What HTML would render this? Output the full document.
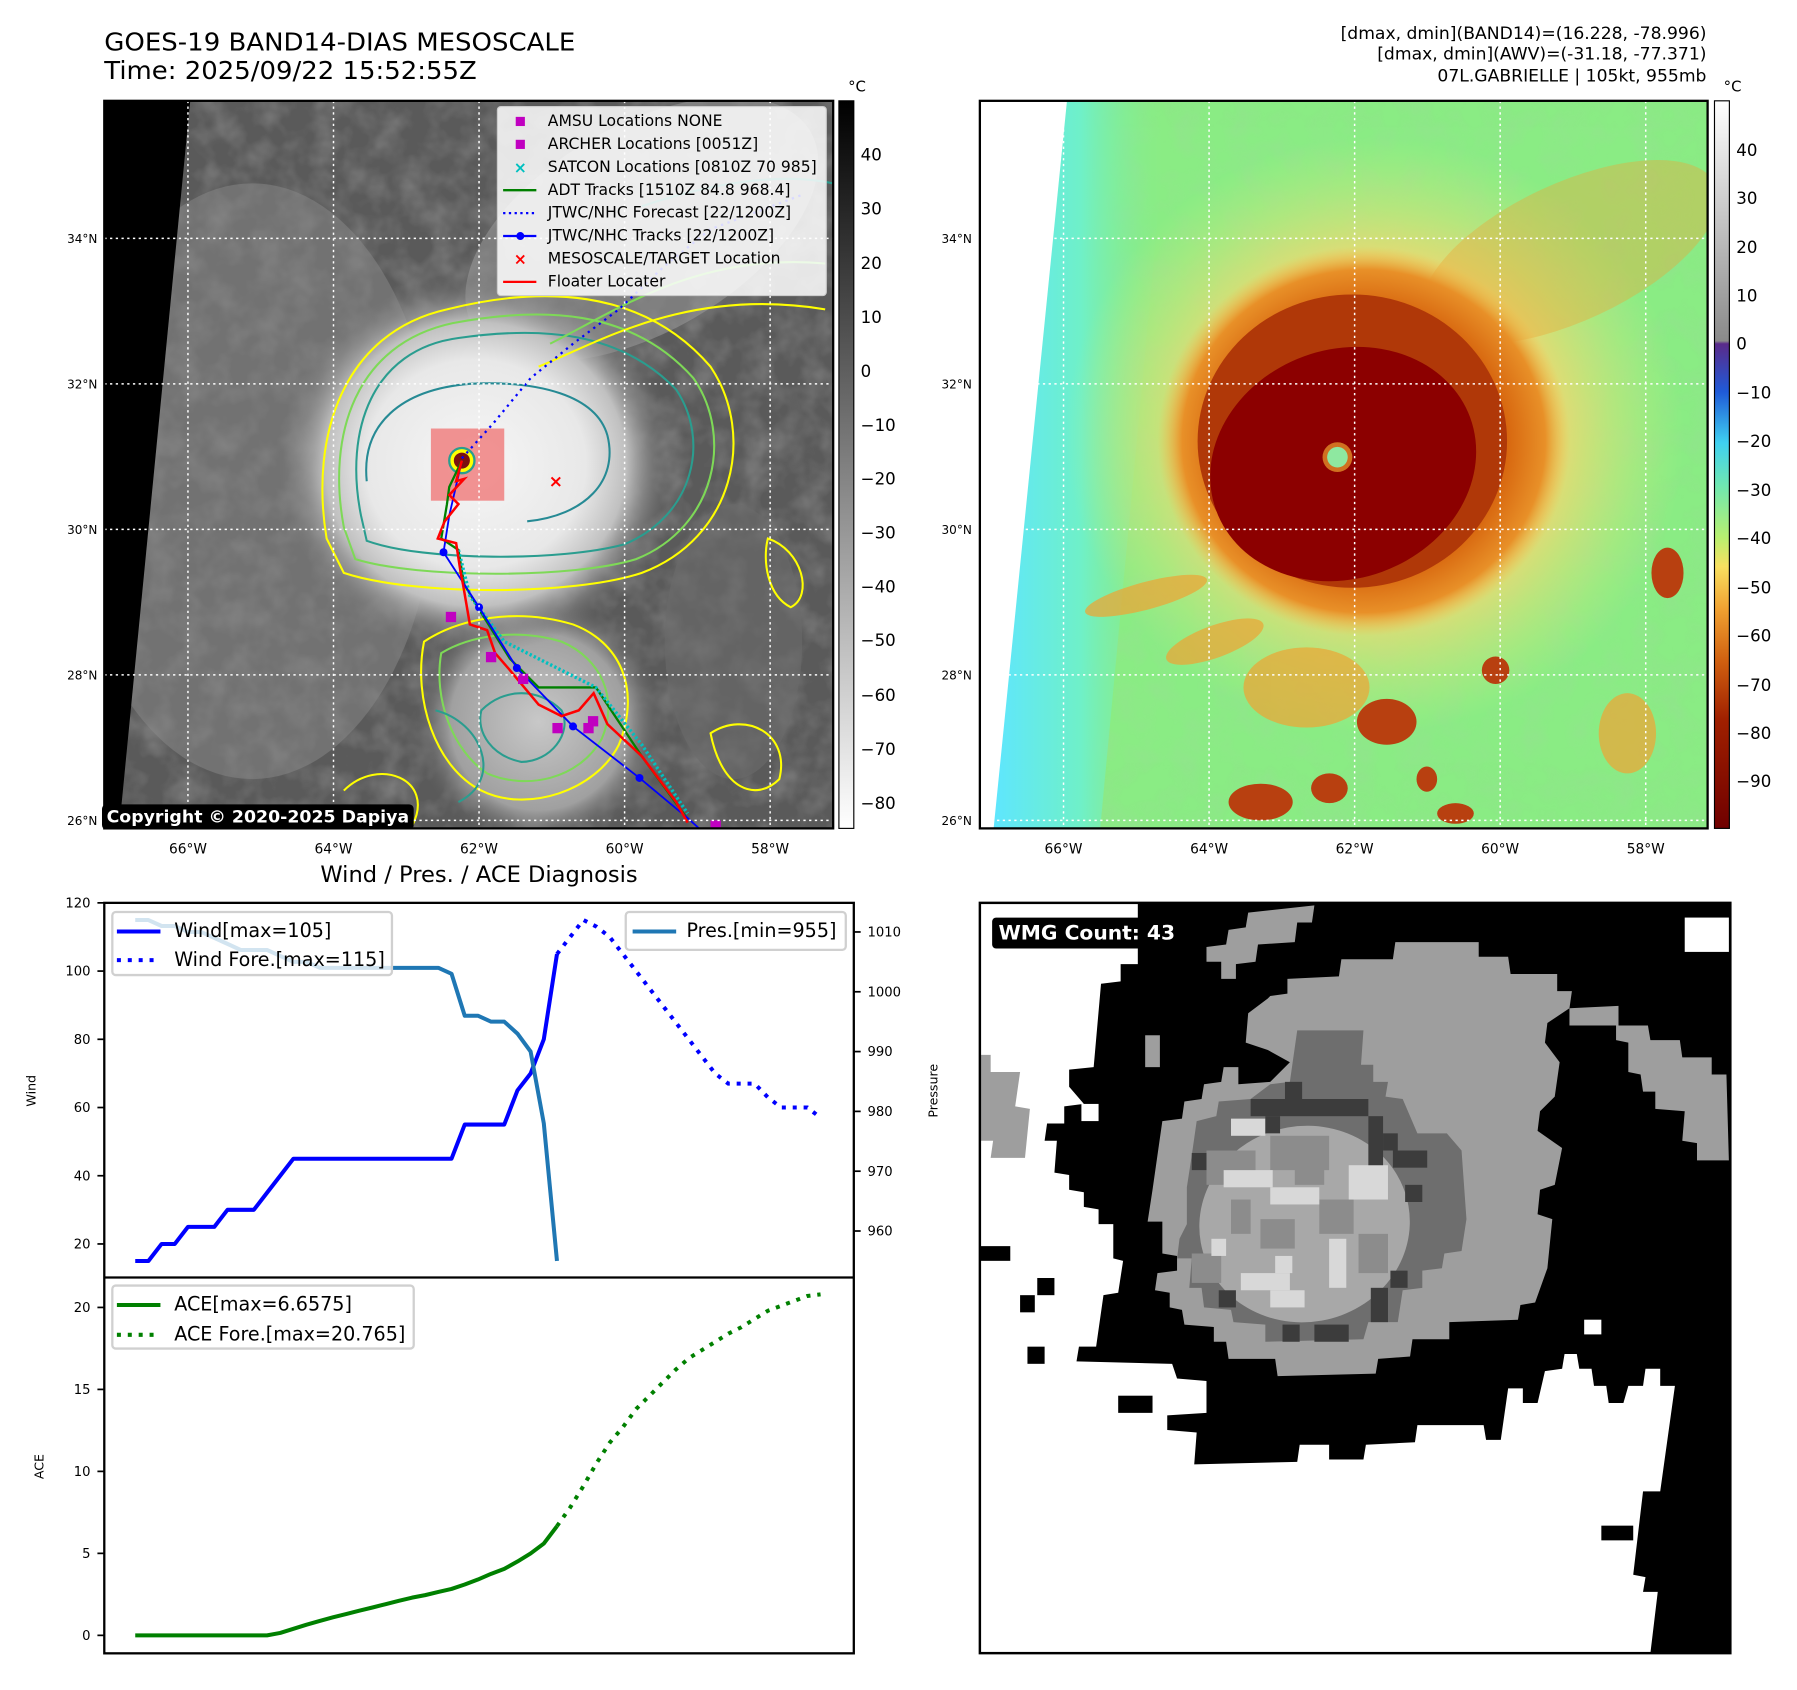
<!DOCTYPE html>
<html><head><meta charset="utf-8"><title>GOES-19 BAND14 Gabrielle</title>
<style>
html,body{margin:0;padding:0;background:#fff;}
svg{display:block;font-family:"DejaVu Sans","Liberation Sans",sans-serif;}
</style></head>
<body>
<svg id="root" xmlns="http://www.w3.org/2000/svg" width="1797" height="1690" viewBox="0 0 1568 1475" preserveAspectRatio="none">
<defs>
 <clipPath id="clipL"><rect x="91" y="88" width="636" height="635"/></clipPath>
 <clipPath id="clipR"><rect x="855" y="88" width="635" height="635"/></clipPath>
 <clipPath id="clipW"><rect x="8" y="15" width="1530" height="1530"/></clipPath>
 <radialGradient id="stormL" cx="0.5" cy="0.5" r="0.5">
  <stop offset="0" stop-color="#f6f6f6"/><stop offset="0.55" stop-color="#e8e8e8"/><stop offset="0.75" stop-color="#c0c0c0"/><stop offset="1" stop-color="#707070" stop-opacity="0"/>
 </radialGradient>
 <radialGradient id="bandL" cx="0.5" cy="0.5" r="0.5">
  <stop offset="0" stop-color="#c8c8c8"/><stop offset="0.7" stop-color="#a0a0a0"/><stop offset="1" stop-color="#606060" stop-opacity="0"/>
 </radialGradient>
 <radialGradient id="yelR" cx="0.5" cy="0.5" r="0.5">
  <stop offset="0" stop-color="#f0c050"/><stop offset="0.6" stop-color="#f2d870"/><stop offset="1" stop-color="#c8ec80" stop-opacity="0"/>
 </radialGradient>
 <radialGradient id="orR" cx="0.5" cy="0.5" r="0.5">
  <stop offset="0" stop-color="#c85010"/><stop offset="0.7" stop-color="#d86810"/><stop offset="0.88" stop-color="#e89028"/><stop offset="1" stop-color="#f0c050" stop-opacity="0"/>
 </radialGradient>
 <linearGradient id="cyanR" x1="0" x2="1" y1="0" y2="0">
  <stop offset="0" stop-color="#5ee6ff"/><stop offset="0.5" stop-color="#6ff0c8"/><stop offset="1" stop-color="#8aec84" stop-opacity="0"/>
 </linearGradient>
 <linearGradient id="cbL" x1="0" x2="0" y1="0" y2="1"><stop offset="0" stop-color="#000"/><stop offset="1" stop-color="#fff"/></linearGradient>
 <linearGradient id="cbR" x1="0" x2="0" y1="0" y2="1">
  <stop offset="0" stop-color="#ffffff"/><stop offset="0.33" stop-color="#8a8a8a"/>
  <stop offset="0.334" stop-color="#5a2a8a"/><stop offset="0.4" stop-color="#1f5ad8"/>
  <stop offset="0.47" stop-color="#3fd0f0"/><stop offset="0.53" stop-color="#70e8b0"/>
  <stop offset="0.6" stop-color="#b8f070"/><stop offset="0.64" stop-color="#f8e060"/>
  <stop offset="0.7" stop-color="#f0a030"/><stop offset="0.77" stop-color="#d06010"/>
  <stop offset="0.85" stop-color="#a02000"/><stop offset="1" stop-color="#700000"/>
 </linearGradient>
 <filter id="tex" x="0" y="0" width="1" height="1"><feTurbulence type="fractalNoise" baseFrequency="0.04" numOctaves="3" seed="4"/><feColorMatrix type="matrix" values="0 0 0 0 0.5  0 0 0 0 0.5  0 0 0 0 0.5  0 0 0 1.6 -0.6"/></filter>
</defs>
<rect x="0" y="0" width="1568" height="1475" fill="#fff"/>

<text x="91" y="44" font-size="21.5" textLength="411" lengthAdjust="spacingAndGlyphs">GOES-19 BAND14-DIAS MESOSCALE</text>
<text x="91" y="69" font-size="21.5" textLength="325" lengthAdjust="spacingAndGlyphs">Time: 2025/09/22 15:52:55Z</text>
<g font-size="15" text-anchor="end">
 <text x="1489" y="34">[dmax, dmin](BAND14)=(16.228, -78.996)</text>
 <text x="1489" y="52">[dmax, dmin](AWV)=(-31.18, -77.371)</text>
 <text x="1489" y="71">07L.GABRIELLE | 105kt, 955mb</text>
</g>

<g>
<g clip-path="url(#clipL)">
 <rect x="91" y="88" width="636" height="635" fill="#5a5a5a"/>
 <rect x="91" y="88" width="636" height="635" fill="#000" filter="url(#tex)" opacity="0.4"/>
 <ellipse cx="220" cy="420" rx="160" ry="260" fill="#8a8a8a" opacity="0.5"/>
 <ellipse cx="560" cy="200" rx="170" ry="90" fill="#9a9a9a" opacity="0.55" transform="rotate(-30 560 200)"/>
 <ellipse cx="470" cy="630" rx="110" ry="110" fill="url(#bandL)"/>
 <ellipse cx="640" cy="560" rx="60" ry="120" fill="#6a6a6a" opacity="0.6"/>
 <ellipse cx="415" cy="405" rx="175" ry="165" fill="url(#stormL)"/>
 <polygon points="91,88 166,88 104,723 91,723" fill="#000"/>
 <g fill="none" stroke-width="1.8">
  <path d="M285,470 C270,380 300,290 390,270 C470,250 560,250 620,320 C660,380 640,470 560,500 C500,520 360,520 300,500 Z" stroke="#ffff00"/>
  <path d="M300,460 C285,380 310,300 395,282 C470,268 550,268 605,330 C640,380 625,460 555,488 C500,505 365,505 310,488 Z" stroke="#7ed957"/>
  <path d="M315,450 C300,375 325,305 400,295 C470,285 540,288 590,340 C620,385 605,450 545,475 C490,490 370,490 320,472 Z" stroke="#2a9d8f"/>
  <path d="M320,420 C315,370 350,340 410,335 C470,332 520,345 530,380 C540,420 510,450 460,455" stroke="#268a94"/>
  <path d="M470,320 C520,300 600,250 720,270" stroke="#ffff00"/>
  <path d="M480,300 C540,270 610,220 720,230" stroke="#7ed957"/>
  <path d="M560,180 C620,160 680,150 727,160" stroke="#2a9d8f"/>
  <path d="M370,560 C400,540 450,530 500,545 C540,560 560,600 540,650 C520,690 460,710 420,690 C380,670 360,610 370,560 Z" stroke="#ffff00"/>
  <path d="M385,570 C410,555 450,548 490,560 C525,575 540,610 525,645 C505,680 460,690 425,675 C395,655 378,610 385,570 Z" stroke="#7ed957"/>
  <path d="M420,620 C440,600 470,600 490,620 C500,640 480,665 455,665 C430,660 415,640 420,620 Z" stroke="#2a9d8f"/>
  <path d="M300,690 C330,660 380,680 360,720" stroke="#ffff00"/>
  <path d="M670,470 C700,480 710,520 690,530 C670,520 665,490 670,470 Z" stroke="#ffff00"/>
  <path d="M620,640 C650,620 690,640 680,680 C660,700 630,690 620,640 Z" stroke="#ffff00"/>
  <path d="M380,620 C420,630 440,680 400,700" stroke="#2a9d8f"/>
 </g>
 <rect x="376" y="374" width="64" height="63" fill="#f08080" opacity="0.85"/>
 <circle cx="403" cy="402" r="11" fill="#ffff00" stroke="#2a9d8f" stroke-width="2"/>
 <circle cx="403" cy="402" r="7" fill="#7a1010"/>
 <polyline points="403,400 430,370 463,330 500,300 540,270 580,232 620,200 700,170" fill="none" stroke="#0000ff" stroke-width="2" stroke-dasharray="2,4"/>
 <polyline points="403,402 392,425 390,440 385,470 400,480 405,510 420,535 445,575 470,600 520,600 560,660 600,715" fill="none" stroke="#008000" stroke-width="2"/>
 <polyline points="400,480 410,520 440,560 520,600 560,650 600,710" fill="none" stroke="#00c0c0" stroke-width="3" stroke-dasharray="2,2"/>
 <polyline points="403,402 392,450 387,482 418,530 451,583 500,634 558,679 600,714 610,723" fill="none" stroke="#0000ff" stroke-width="1.6"/>
 <g fill="#0000ff">
  <circle cx="387" cy="482" r="3.5"/><circle cx="418" cy="530" r="3.5"/><circle cx="451" cy="583" r="3.5"/><circle cx="500" cy="634" r="3.5"/><circle cx="558" cy="679" r="3.5"/>
 </g>
 <polyline points="403,402 398,420 405,418 392,432 400,440 388,455 382,470 398,474 402,500 404,510 410,545 425,550 432,570 445,585 470,615 490,625 505,620 518,605 530,632 560,660 575,680 590,700 600,718" fill="none" stroke="#ff0000" stroke-width="2.2"/>
 <g fill="#c000c0">
  <rect x="389" y="534" width="9" height="9"/><rect x="424" y="569" width="9" height="9"/><rect x="452" y="588" width="9" height="9"/><rect x="482" y="631" width="9" height="9"/><rect x="509" y="631" width="9" height="9"/><rect x="513" y="625" width="9" height="9"/><rect x="620" y="716" width="9" height="9"/>
 </g>
 <text x="485" y="425" font-size="15" font-weight="bold" fill="#ff0000" text-anchor="middle">×</text>
 <g stroke="#fff" stroke-width="1.3" stroke-dasharray="2,3">
  <line x1="164" y1="88" x2="164" y2="723"/><line x1="291" y1="88" x2="291" y2="723"/><line x1="418" y1="88" x2="418" y2="723"/><line x1="545" y1="88" x2="545" y2="723"/><line x1="672" y1="88" x2="672" y2="723"/>
  <line x1="91" y1="208" x2="727" y2="208"/><line x1="91" y1="335" x2="727" y2="335"/><line x1="91" y1="462" x2="727" y2="462"/><line x1="91" y1="589" x2="727" y2="589"/><line x1="91" y1="716" x2="727" y2="716"/>
 </g>
</g>
<rect x="91" y="88" width="636" height="635" fill="none" stroke="#000" stroke-width="2"/>
<g>
 <rect x="434" y="93" width="287" height="165" rx="3" fill="#fff" fill-opacity="0.85" stroke="#ccc"/>
 <g font-size="13.6">
  <rect x="450" y="102" width="8" height="8" fill="#c000c0"/><text x="478" y="110">AMSU Locations NONE</text>
  <rect x="450" y="122" width="8" height="8" fill="#c000c0"/><text x="478" y="130">ARCHER Locations [0051Z]</text>
  <text x="454" y="151" fill="#00c0c0" text-anchor="middle" font-weight="bold">×</text><text x="478" y="150">SATCON Locations [0810Z 70 985]</text>
  <line x1="439" y1="166" x2="468" y2="166" stroke="#008000" stroke-width="2"/><text x="478" y="170">ADT Tracks [1510Z 84.8 968.4]</text>
  <line x1="439" y1="186" x2="468" y2="186" stroke="#0000ff" stroke-width="2" stroke-dasharray="2,3"/><text x="478" y="190">JTWC/NHC Forecast [22/1200Z]</text>
  <line x1="439" y1="206" x2="468" y2="206" stroke="#0000ff" stroke-width="2"/><circle cx="454" cy="206" r="3.5" fill="#0000ff"/><text x="478" y="210">JTWC/NHC Tracks [22/1200Z]</text>
  <text x="454" y="231" fill="#ff0000" text-anchor="middle" font-weight="bold">×</text><text x="478" y="230">MESOSCALE/TARGET Location</text>
  <line x1="439" y1="246" x2="468" y2="246" stroke="#ff0000" stroke-width="2"/><text x="478" y="250">Floater Locater</text>
 </g>
</g>
<g>
 <rect x="89" y="702" width="272" height="22" rx="4" fill="#000"/>
 <text x="93" y="718" font-size="14.5" font-weight="bold" fill="#fff" textLength="264" lengthAdjust="spacingAndGlyphs">Copyright © 2020-2025 Dapiya</text>
</g>
</g>

<g>
 <rect x="732" y="88" width="13" height="635" fill="url(#cbL)" stroke="#000" stroke-width="1"/>
 <text x="740" y="80" font-size="13">°C</text>
 <g font-size="14.5">
  <text x="751" y="140">40</text><text x="751" y="187">30</text><text x="751" y="235">20</text><text x="751" y="282">10</text><text x="751" y="329">0</text>
  <text x="751" y="376">−10</text><text x="751" y="423">−20</text><text x="751" y="470">−30</text><text x="751" y="517">−40</text><text x="751" y="564">−50</text><text x="751" y="612">−60</text><text x="751" y="659">−70</text><text x="751" y="706">−80</text>
 </g>
</g>
<g>
 <rect x="1496" y="88" width="13" height="635" fill="url(#cbR)" stroke="#000" stroke-width="1"/>
 <text x="1504" y="80" font-size="13">°C</text>
 <g font-size="14.5">
  <text x="1515" y="136">40</text><text x="1515" y="178">30</text><text x="1515" y="221">20</text><text x="1515" y="263">10</text><text x="1515" y="305">0</text>
  <text x="1515" y="348">−10</text><text x="1515" y="390">−20</text><text x="1515" y="433">−30</text><text x="1515" y="475">−40</text><text x="1515" y="518">−50</text><text x="1515" y="560">−60</text><text x="1515" y="603">−70</text><text x="1515" y="645">−80</text><text x="1515" y="687">−90</text>
 </g>
</g>

<g>
<g clip-path="url(#clipR)">
 <rect x="855" y="88" width="635" height="635" fill="#8aec84"/>
 <rect x="855" y="88" width="635" height="635" fill="#000" filter="url(#tex)" opacity="0.15"/>
 <polygon points="930,88 1020,88 960,723 866,723" fill="url(#cyanR)"/>
 <ellipse cx="1200" cy="380" rx="270" ry="260" fill="url(#yelR)" opacity="0.85"/>
 <ellipse cx="1370" cy="220" rx="140" ry="60" fill="#eaa838" opacity="0.4" transform="rotate(-25 1370 220)"/>
 <ellipse cx="1190" cy="385" rx="180" ry="170" fill="url(#orR)"/>
 <ellipse cx="1180" cy="385" rx="135" ry="128" fill="#b03808"/>
 <ellipse cx="1172" cy="405" rx="118" ry="100" fill="#8c0000" transform="rotate(-20 1172 405)"/>
 <circle cx="1167" cy="399" r="13" fill="#d07020"/>
 <circle cx="1167" cy="399" r="9" fill="#8ee8a0"/>
 <g fill="#eaa838" opacity="0.75">
  <ellipse cx="1140" cy="600" rx="55" ry="35"/><ellipse cx="1060" cy="560" rx="45" ry="14" transform="rotate(-20 1060 560)"/><ellipse cx="1420" cy="640" rx="25" ry="35"/><ellipse cx="1000" cy="520" rx="55" ry="12" transform="rotate(-15 1000 520)"/>
 </g>
 <g fill="#b84010">
  <ellipse cx="1210" cy="630" rx="26" ry="20"/><ellipse cx="1160" cy="688" rx="16" ry="13"/><ellipse cx="1100" cy="700" rx="28" ry="16"/><ellipse cx="1270" cy="710" rx="16" ry="9"/><ellipse cx="1455" cy="500" rx="14" ry="22"/><ellipse cx="1305" cy="585" rx="12" ry="12"/><ellipse cx="1245" cy="680" rx="9" ry="11"/>
 </g>
 <g stroke="#fff" stroke-width="1.3" stroke-dasharray="2,3">
  <line x1="928" y1="88" x2="928" y2="723"/><line x1="1055" y1="88" x2="1055" y2="723"/><line x1="1182" y1="88" x2="1182" y2="723"/><line x1="1309" y1="88" x2="1309" y2="723"/><line x1="1436" y1="88" x2="1436" y2="723"/>
  <line x1="855" y1="208" x2="1490" y2="208"/><line x1="855" y1="335" x2="1490" y2="335"/><line x1="855" y1="462" x2="1490" y2="462"/><line x1="855" y1="589" x2="1490" y2="589"/><line x1="855" y1="716" x2="1490" y2="716"/>
 </g>
 <polygon points="855,88 931,88 867,723 855,723" fill="#fff"/>
</g>
<rect x="855" y="88" width="635" height="635" fill="none" stroke="#000" stroke-width="2"/>
</g>

<g font-size="10.5" text-anchor="end">
 <text x="85" y="212">34°N</text><text x="85" y="339">32°N</text><text x="85" y="466">30°N</text><text x="85" y="593">28°N</text><text x="85" y="720">26°N</text>
 <text x="848" y="212">34°N</text><text x="848" y="339">32°N</text><text x="848" y="466">30°N</text><text x="848" y="593">28°N</text><text x="848" y="720">26°N</text>
</g>
<g font-size="12" text-anchor="middle">
 <text x="164" y="745">66°W</text><text x="291" y="745">64°W</text><text x="418" y="745">62°W</text><text x="545" y="745">60°W</text><text x="672" y="745">58°W</text>
 <text x="928" y="745">66°W</text><text x="1055" y="745">64°W</text><text x="1182" y="745">62°W</text><text x="1309" y="745">60°W</text><text x="1436" y="745">58°W</text>
</g>

<text x="418" y="770" font-size="19.7" text-anchor="middle">Wind / Pres. / ACE Diagnosis</text>
<g id="chart">
 <rect x="91" y="788" width="654" height="655" fill="none" stroke="#000" stroke-width="2"/>
 <line x1="91" y1="1115" x2="745" y2="1115" stroke="#000" stroke-width="2"/>
 <text x="31" y="952" font-size="11" transform="rotate(-90 31 952)" text-anchor="middle">Wind</text>
 <text x="818" y="952" font-size="11" transform="rotate(-90 818 952)" text-anchor="middle">Pressure</text>
 <text x="38" y="1280" font-size="11" transform="rotate(-90 38 1280)" text-anchor="middle">ACE</text>
 <g id="ticks"></g>
 <g id="series"></g>
 <g>
  <rect x="98" y="796" width="244" height="55" rx="3" fill="#fff" fill-opacity="0.8" stroke="#d0d0d0" stroke-width="2"/>
  <line x1="102" y1="813" x2="140" y2="813" stroke="#0000ff" stroke-width="3.5"/>
  <line x1="102" y1="838" x2="140" y2="838" stroke="#0000ff" stroke-width="3.5" stroke-dasharray="3.5,6"/>
  <text x="152" y="818" font-size="16.7">Wind[max=105]</text>
  <text x="152" y="843" font-size="16.7">Wind Fore.[max=115]</text>
 </g>
 <g>
  <rect x="546" y="796" width="192" height="33" rx="3" fill="#fff" fill-opacity="0.8" stroke="#d0d0d0" stroke-width="2"/>
  <line x1="552" y1="813" x2="590" y2="813" stroke="#1f77b4" stroke-width="3.5"/>
  <text x="599" y="818" font-size="16.7">Pres.[min=955]</text>
 </g>
 <g>
  <rect x="98" y="1122" width="263" height="55" rx="3" fill="#fff" fill-opacity="0.8" stroke="#d0d0d0" stroke-width="2"/>
  <line x1="102" y1="1139" x2="140" y2="1139" stroke="#008000" stroke-width="3.5"/>
  <line x1="102" y1="1165" x2="140" y2="1165" stroke="#008000" stroke-width="3.5" stroke-dasharray="3.5,6"/>
  <text x="152" y="1144" font-size="16.7">ACE[max=6.6575]</text>
  <text x="152" y="1170" font-size="16.7">ACE Fore.[max=20.765]</text>
 </g>
</g>

<g transform="translate(855,788) scale(0.428) translate(-8,-15)">
 <g clip-path="url(#clipW)">
 <rect x="8" y="15" width="1530" height="1530" fill="#fff"/>
 <polygon points="330,15 330,140 295,140 295,175 255,180 240,350 190,355 190,390 220,425 180,430 180,465 145,465 140,500 165,500 160,565 190,570 190,600 220,605 220,635 250,640 250,670 280,670 280,740 300,745 290,810 260,815 245,920 210,920 205,950 400,955 410,985 470,990 470,1055 390,1060 390,1090 450,1095 445,1160 655,1155 660,1120 720,1120 720,1150 790,1150 795,1120 895,1115 900,1080 1035,1080 1040,1110 1070,1110 1085,1005 1115,1005 1115,1035 1145,1035 1160,970 1195,965 1200,935 1225,935 1230,965 1255,965 1260,1000 1285,1000 1290,1035 1320,1035 1330,1000 1360,1000 1365,965 1395,965 1395,1000 1425,1000 1395,1215 1360,1215 1340,1385 1365,1390 1360,1420 1390,1420 1375,1545 1538,1545 1538,15" fill="#000"/>
 <rect x="1445" y="45" width="90" height="70" fill="#fff"/>
 <g fill="#000"><rect x="125" y="780" width="35" height="35"/><rect x="90" y="815" width="30" height="35"/><rect x="105" y="920" width="35" height="35"/><rect x="290" y="1020" width="70" height="35"/><rect x="8" y="715" width="62" height="30"/><rect x="1275" y="1285" width="65" height="30"/></g>
 <g fill="#fff"><rect x="1240" y="865" width="35" height="30"/><rect x="1255" y="1180" width="40" height="30"/><rect x="215" y="425" width="35" height="35"/></g>
 <g fill="#9e9e9e">
  <polygon points="8,325 30,325 30,360 90,360 80,430 110,435 100,535 30,535 35,500 8,500"/>
  <polygon points="470,105 510,100 515,70 550,65 555,35 690,20 685,55 655,55 650,95 575,100 570,135 530,140 530,170 500,170 500,135 470,135"/>
  <rect x="345" y="285" width="30" height="65"/>
  <polygon points="1210,230 1310,225 1310,265 1370,265 1375,295 1435,295 1440,330 1500,330 1500,365 1530,365 1535,540 1470,540 1470,505 1440,500 1445,440 1385,435 1385,400 1360,400 1355,365 1330,360 1330,300 1305,295 1305,265 1210,265"/>
  <polygon points="635,170 740,165 745,130 850,130 855,95 1025,95 1025,125 1085,125 1090,160 1185,160 1185,195 1215,195 1210,230 1165,260 1160,300 1190,340 1180,410 1150,440 1145,480 1195,515 1180,590 1150,600 1145,650 1175,660 1165,760 1140,830 1110,835 1105,865 965,870 965,905 890,905 885,940 820,945 815,975 615,980 610,945 515,945 510,910 485,910 485,880 425,875 420,845 395,840 395,810 365,805 370,770 410,765 410,735 380,730 380,665 350,665 360,600 380,460 420,455 425,420 460,415 465,385 500,380 505,350 535,350 535,385 600,380 640,340 595,315 550,300 555,240 595,210 600,205 635,200"/>
 </g>
 <polygon fill="#6e6e6e" points="655,275 790,275 785,345 810,345 810,380 840,380 835,410 870,415 900,485 960,485 990,520 1000,660 990,725 955,730 950,760 910,765 910,800 870,805 860,870 800,870 790,905 590,910 590,875 525,870 520,845 465,840 460,800 435,800 440,740 410,740 415,700 430,670 430,595 440,530 450,460 490,450 495,420 560,415 600,385 640,380"/>
 <ellipse cx="670" cy="670" rx="215" ry="200" fill="#a8a8a8" transform="rotate(-10 670 670)"/>
 <g fill="#8c8c8c"><rect x="600" y="490" width="120" height="70"/><rect x="470" y="520" width="100" height="70"/><rect x="700" y="620" width="70" height="70"/><rect x="580" y="660" width="70" height="60"/><rect x="780" y="690" width="60" height="80"/><rect x="440" y="730" width="60" height="60"/><rect x="650" y="540" width="60" height="50"/><rect x="520" y="620" width="40" height="70"/></g>
 <g fill="#d8d8d8"><rect x="505" y="560" width="100" height="35"/><rect x="600" y="595" width="100" height="35"/><rect x="720" y="700" width="35" height="100"/><rect x="610" y="735" width="35" height="35"/><rect x="540" y="770" width="100" height="35"/><rect x="600" y="805" width="70" height="35"/><rect x="520" y="455" width="70" height="35"/><rect x="760" y="550" width="80" height="70"/><rect x="480" y="700" width="30" height="35"/></g>
 <g fill="#3c3c3c"><rect x="560" y="415" width="240" height="35"/><rect x="630" y="380" width="35" height="40"/><rect x="800" y="450" width="30" height="100"/><rect x="440" y="525" width="30" height="35"/><rect x="850" y="520" width="70" height="35"/><rect x="875" y="590" width="35" height="35"/><rect x="845" y="765" width="35" height="35"/><rect x="805" y="800" width="35" height="70"/><rect x="495" y="805" width="35" height="35"/><rect x="625" y="875" width="35" height="35"/><rect x="690" y="875" width="70" height="35"/><rect x="590" y="450" width="30" height="35"/><rect x="830" y="485" width="30" height="35"/></g>
 </g>
 <rect x="8" y="15" width="1530" height="1530" fill="none" stroke="#000" stroke-width="5"/>
 <g>
  <rect x="33" y="45" width="382" height="63" rx="8" fill="#000"/>
  <text x="46" y="90" font-size="39" font-weight="bold" fill="#fff" textLength="360" lengthAdjust="spacingAndGlyphs">WMG Count: 43</text>
 </g>
</g>
</svg>

<script>
const windObs = [15,15,20,20,25,25,25,30,30,30,35,40,45,45,45,45,45,45,45,45,45,45,45,45,45,55,55,55,55,65,70,80,105];
const presObs = [1012,1012,1011,1011,1010,1010,1009,1008,1007,1007,1007,1006,1005,1005,1004,1004,1004,1004,1004,1004,1004,1004,1004,1004,1003,996,996,995,995,993,990,978,955];
const windFore = [105,110,115,113,110,105,100,95,90,85,80,75,70,67,67,67,63,60,60,60,57];
const aceObs = [0,0,0,0,0,0,0,0,0,0,0,0.15,0.4,0.65,0.88,1.1,1.3,1.5,1.7,1.9,2.1,2.3,2.45,2.65,2.83,3.1,3.4,3.75,4.05,4.5,5.0,5.6,6.66];
const aceFore = [6.66,7.8,9.1,10.5,11.75,12.7,13.8,14.6,15.4,16.2,16.9,17.4,17.9,18.4,18.8,19.3,19.8,20.1,20.4,20.7,20.8];
const windTicks = [20,40,60,80,100,120];
const presTicks = [960,970,980,990,1000,1010];
const aceTicks = [0,5,10,15,20];

const NS = 'http://www.w3.org/2000/svg';
const xPos = i => 118 + i * 11.5;
const yWind = v => 788 + (120 - v) * 2.977;
const yPres = p => 813.4 + (1010 - p) * 5.22;
const yAce = v => 1427.3 - v * 14.31;
const foreStart = windObs.length - 1;

function mk(tag, attrs, parent) {
  const el = document.createElementNS(NS, tag);
  for (const k in attrs) el.setAttribute(k, attrs[k]);
  parent.appendChild(el);
  return el;
}
const series = document.getElementById('series');
const ticks = document.getElementById('ticks');

windTicks.forEach(v => {
  const y = yWind(v);
  const t = mk('line', {x1: 85, x2: 91, y1: y, y2: y, stroke: '#000', 'stroke-width': 1.5}, ticks);
  
  
  const l = mk('text', {x: 79, y: y + 4, 'font-size': 11.5, 'text-anchor': 'end'}, ticks);
  l.textContent = v;
  
  
});
presTicks.forEach(v => {
  const y = yPres(v);
  const t = mk('line', {x1: 745, x2: 751, y1: y, y2: y, stroke: '#000', 'stroke-width': 1.5}, ticks);
  
  
  const l = mk('text', {x: 757, y: y + 4, 'font-size': 11.5}, ticks);
  l.textContent = v;
  
  
});
aceTicks.forEach(v => {
  const y = yAce(v);
  const t = mk('line', {x1: 85, x2: 91, y1: y, y2: y, stroke: '#000', 'stroke-width': 1.5}, ticks);
  
  
  const l = mk('text', {x: 79, y: y + 4, 'font-size': 11.5, 'text-anchor': 'end'}, ticks);
  l.textContent = v;
  
  
});

function pts(arr, off, yf) { return arr.map((v, i) => xPos(i + off).toFixed(1) + ',' + yf(v).toFixed(1)).join(' '); }

const pw = mk('polyline', {points: pts(windObs, 0, yWind), fill: 'none', stroke: '#0000ff', 'stroke-width': 3.5, 'stroke-linejoin': 'round'}, series);


const pwf = mk('polyline', {points: pts(windFore, foreStart, yWind), fill: 'none', stroke: '#0000ff', 'stroke-width': 3.5, 'stroke-dasharray': '3.5,6'}, series);


const pp = mk('polyline', {points: pts(presObs, 0, yPres), fill: 'none', stroke: '#1f77b4', 'stroke-width': 3.5, 'stroke-linejoin': 'round'}, series);


const pa = mk('polyline', {points: pts(aceObs, 0, yAce), fill: 'none', stroke: '#008000', 'stroke-width': 3.5, 'stroke-linejoin': 'round'}, series);


const paf = mk('polyline', {points: pts(aceFore, foreStart, yAce), fill: 'none', stroke: '#008000', 'stroke-width': 3.5, 'stroke-dasharray': '3.5,6'}, series);


</script>
</body></html>
